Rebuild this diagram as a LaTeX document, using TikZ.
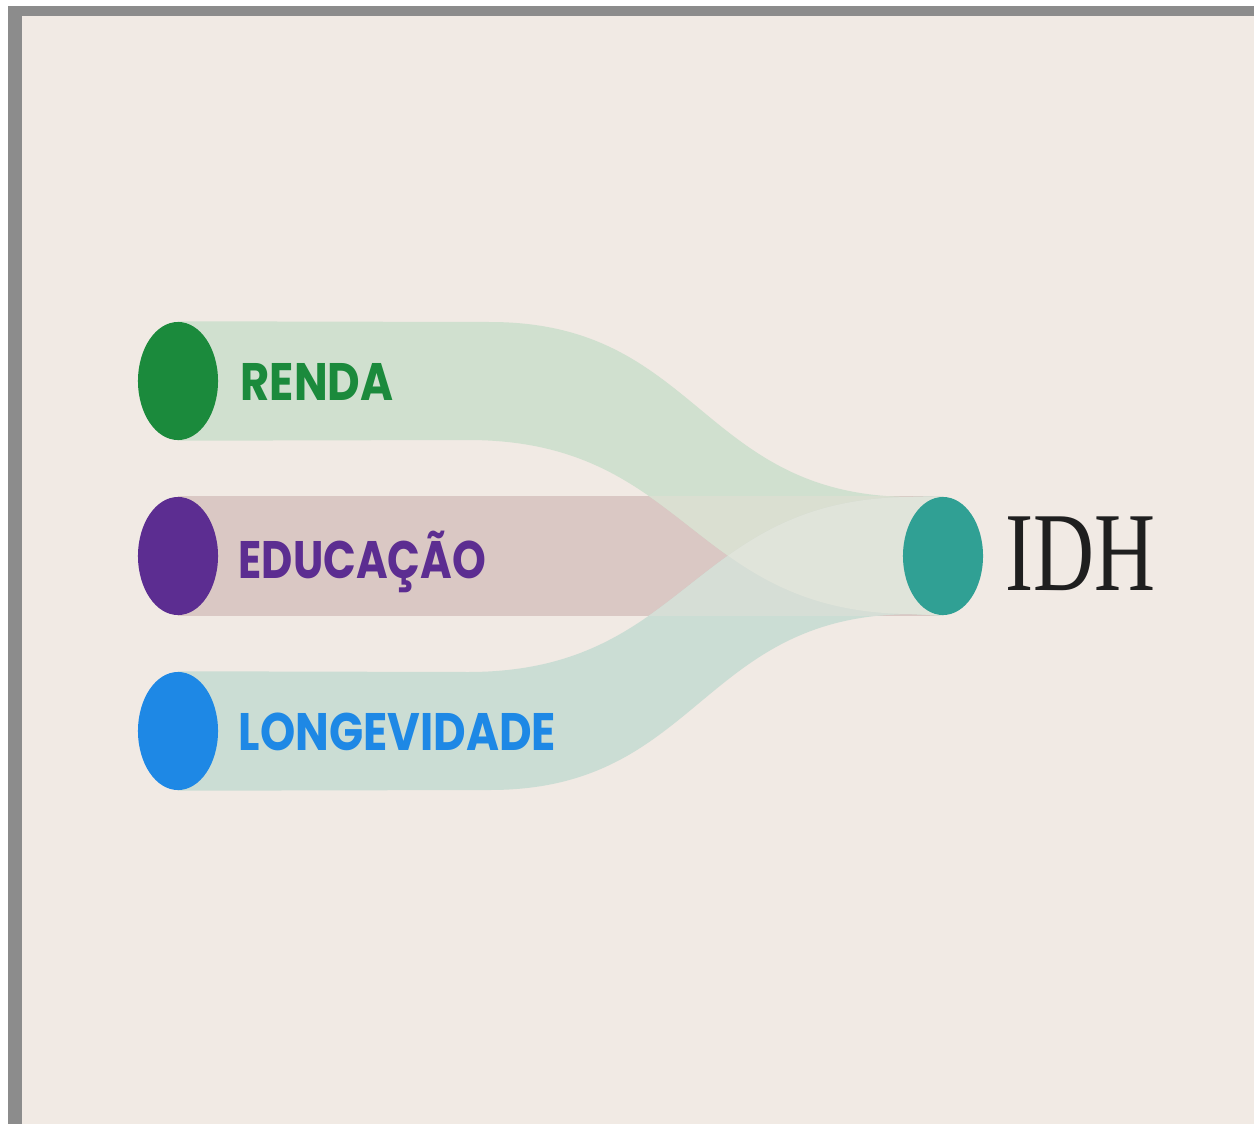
\documentclass[tikz,border=0pt]{standalone}
\usepackage{fontspec}
\newfontfamily\labelfont{Poppins}[UprightFont=* Bold]
\newfontfamily\idhfont{Liberation Serif}
\usetikzlibrary{shapes.geometric}
\definecolor{bgc}{RGB}{241,234,228}
\definecolor{framec}{RGB}{140,140,140}
\definecolor{educ}{RGB}{218,200,196}
\definecolor{rendab}{RGB}{208,224,207}
\definecolor{longb}{RGB}{203,221,212}
\definecolor{redu}{RGB}{218,223,209}
\definecolor{ledu}{RGB}{214,222,214}
\definecolor{rl}{RGB}{224,228,218}
\definecolor{cgreen}{RGB}{27,138,60}
\definecolor{cpurple}{RGB}{92,45,145}
\definecolor{cblue}{RGB}{30,136,229}
\definecolor{cteal}{RGB}{48,160,148}
\begin{document}
\begin{tikzpicture}[x=0.01cm,y=-0.01cm,
  dot/.style={ellipse, minimum width=0.8cm, minimum height=1.18cm, inner sep=0pt},
  lbl/.style={anchor=base west, inner sep=0pt, font=\labelfont\fontsize{15}{15}\selectfont}]
\useasboundingbox (0,0) rectangle (1254,1124);
\fill[white] (0,0) rectangle (1254,1124);
\fill[framec] (8,6) rectangle (1254,1124);
\fill[bgc] (22,16) rectangle (1254,1124);
% nodes (positions; dots drawn later)
\path (178,381) node[dot] (renda) {};
\path (178,556) node[dot] (edu) {};
\path (178,731) node[dot] (longe) {};
\path (943,556) node[dot] (idh) {};
\def\rendapath{(renda.north) -- (490,322) .. controls (700,322) and (700,497) .. (913,497) -- (idh.north) -- (idh.south) -- (913,614) .. controls (690,614) and (690,440) .. (468,440) -- (renda.south) -- cycle}
\def\longpath{(longe.north) -- (468,672) .. controls (690,672) and (690,497) .. (913,497) -- (idh.north) -- (idh.south) -- (913,614) .. controls (700,614) and (700,790) .. (490,790) -- (longe.south) -- cycle}
\def\edupath{(edu.north) rectangle (idh.south)}
\fill[educ] \edupath;
\fill[rendab] \rendapath;
\fill[longb] \longpath;
\begin{scope}
  \clip \edupath;
  \fill[redu] \rendapath;
  \fill[ledu] \longpath;
  \begin{scope}
    \clip \rendapath;
    \fill[rl] \longpath;
  \end{scope}
\end{scope}
% dots
\fill[cgreen] (renda.center) ellipse (0.4cm and 0.59cm);
\fill[cpurple] (edu.center) ellipse (0.4cm and 0.59cm);
\fill[cblue] (longe.center) ellipse (0.4cm and 0.59cm);
\fill[cteal] (idh.center) ellipse (0.4cm and 0.59cm);
% labels
\node[lbl, text=cgreen] (trenda) at (240,400) {\scalebox{0.85}[1]{RENDA}};
\node[lbl, text=cpurple] (tedu) at (238,578) {\scalebox{0.815}[1]{EDUCAÇÃO}};
\node[lbl, text=cblue] (tlonge) at (238,750) {\scalebox{0.85}[1]{LONGEVIDADE}};
\node[anchor=base west, inner sep=0pt, font=\idhfont\fontsize{32}{32}\selectfont, text=black!88] (tidh) at (1005,590) {\scalebox{0.75}[1]{IDH}};
\end{tikzpicture}
\end{document}
